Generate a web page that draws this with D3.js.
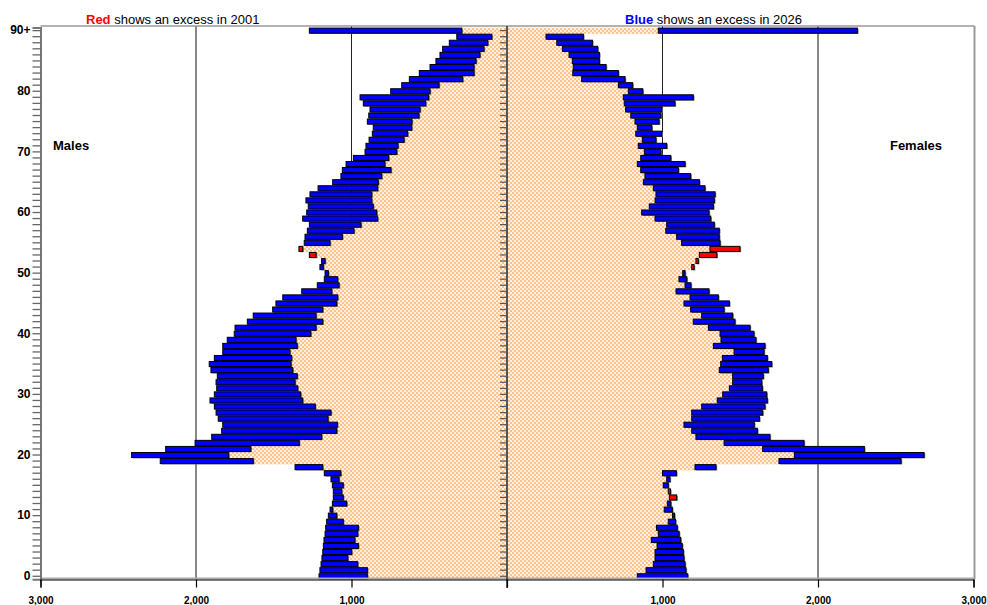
<!DOCTYPE html>
<html>
<head>
<meta charset="utf-8">
<script src="https://cdn.jsdelivr.net/npm/d3@7/dist/d3.min.js"></script>
<style>
  html, body { margin: 0; padding: 0; background: #fff; }
  svg { display: block; font-family: Arial, "Liberation Sans", sans-serif; }
</style>
</head>
<body>
<svg id="chart" width="987" height="605"></svg>
<script>
// Single-year ages 0..90 (90 = 90 and over)
const ages = d3.range(0, 91);

// Males, 2001 and 2026, by single year of age (index = age)
const male2001 = [898, 898, 960, 1024, 999, 956, 978, 960, 956, 1053,
  1095, 1121, 1031, 1053, 1063, 1053, 1080, 1069, 1185, 1632,
  1790, 1648, 1336, 1192, 1095, 1091, 1151, 1132, 1233, 1314,
  1327, 1346, 1363, 1349, 1378, 1389, 1385, 1396, 1349, 1357,
  1262, 1228, 1185, 1228, 1185, 1095, 1089, 1127, 1080, 1089,
  1149, 1181, 1170, 1271, 1338, 1138, 1059, 984, 939, 832,
  838, 860, 870, 870, 832, 828, 806, 746, 785, 761,
  709, 701, 662, 639, 613, 611, 566, 559, 523, 504,
  495, 437, 285, 212, 212, 199, 174, 148, 124, 98, 291];

const male2026 = [1209, 1203, 1196, 1190, 1185, 1181, 1177, 1170, 1166, 1160,
  1149, 1138, 1123, 1117, 1117, 1123, 1132, 1175, 1363, 2230,
  2414, 2195, 2006, 1899, 1835, 1828, 1857, 1871, 1882, 1910,
  1882, 1867, 1871, 1863, 1904, 1915, 1882, 1828, 1828, 1799,
  1754, 1749, 1670, 1632, 1507, 1486, 1442, 1320, 1220, 1175,
  1170, 1203, 1192, 1228, 1314, 1304, 1299, 1284, 1271, 1314,
  1288, 1278, 1293, 1267, 1215, 1121, 1068, 1059, 1035, 988,
  913, 907, 887, 866, 860, 898, 889, 881, 924, 945,
  748, 677, 628, 564, 495, 457, 431, 414, 371, 323, 1271];

// Females, 2001 and 2026
const female2001 = [838, 894, 941, 952, 952, 965, 928, 973, 961, 1037,
  1064, 1011, 1031, 1091, 1051, 1005, 1027, 1000, 1209, 1749,
  1848, 1644, 1396, 1215, 1188, 1138, 1188, 1188, 1252, 1352,
  1387, 1430, 1451, 1451, 1365, 1374, 1385, 1460, 1327, 1376,
  1370, 1295, 1198, 1252, 1181, 1138, 1177, 1087, 1145, 1106,
  1130, 1203, 1230, 1349, 1498, 1123, 1091, 1021, 1027, 952,
  866, 915, 952, 958, 941, 877, 887, 860, 838, 860,
  883, 844, 870, 828, 838, 823, 796, 763, 754, 748,
  780, 716, 480, 423, 426, 420, 399, 356, 320, 251, 973];

const female2026 = [1162, 1151, 1145, 1138, 1134, 1127, 1117, 1107, 1095, 1084,
  1077, 1063, 1053, 1044, 1037, 1037, 1048, 1089, 1344, 2534,
  2682, 2298, 1910, 1691, 1610, 1590, 1623, 1644, 1659, 1674,
  1670, 1642, 1638, 1648, 1680, 1702, 1674, 1653, 1659, 1601,
  1588, 1563, 1466, 1451, 1396, 1430, 1359, 1299, 1183, 1156,
  1145, 1188, 1215, 1237, 1305, 1370, 1365, 1365, 1333, 1310,
  1299, 1327, 1333, 1338, 1273, 1237, 1181, 1102, 1145, 1053,
  990, 1027, 958, 995, 931, 978, 990, 995, 1080, 1198,
  873, 808, 759, 716, 637, 594, 594, 583, 549, 491, 2253];

// Horizontal axis ticks (population, both directions from the centre)
const xTicks = [-3000, -2000, -1000, 0, 1000, 2000, 3000];
const ageLabelStep = 10;

const svg = d3.select("#chart");

// Geometry
const centre = 507;
const halfW = 466.5;
const plotTop = 26, plotBottom = 579.5;
const bandTop = 27.6, bandBottom = 579.3;

const xLeft = d3.scaleLinear().domain([0, 3000]).range([centre, centre - halfW]);
const xRight = d3.scaleLinear().domain([0, 3000]).range([centre, centre + halfW]);
const xAxisScale = d3.scaleLinear().domain([-3000, 3000]).range([centre - halfW, centre + halfW]);
const y = d3.scaleBand().domain(ages.slice().reverse()).range([bandTop, bandBottom]).padding(0);
const bw = y.bandwidth();

// Checkered fill for the common (overlapping) part of both years
const defs = svg.append("defs");
const pat = defs.append("pattern").attr("id", "chk")
  .attr("width", 4).attr("height", 4).attr("patternUnits", "userSpaceOnUse");
pat.append("rect").attr("width", 4).attr("height", 4).attr("fill", "#fff0e2");
pat.append("rect").attr("width", 2).attr("height", 2).attr("fill", "#ffc28a");
pat.append("rect").attr("x", 2).attr("y", 2).attr("width", 2).attr("height", 2).attr("fill", "#ffc28a");

// Vertical grid lines
const grid = svg.append("g");
[{ v: 1000, c: "#222", w: 1 }, { v: 2000, c: "#888", w: 2 }].forEach(g => {
  [xLeft(g.v), xRight(g.v)].forEach(x => {
    grid.append("line").attr("x1", x).attr("x2", x)
      .attr("y1", plotTop).attr("y2", plotBottom)
      .attr("stroke", g.c).attr("stroke-width", g.w);
  });
});

// Build rows for each side
function rows(a2001, a2026, scale, side) {
  return ages.map(age => {
    const v1 = a2001[age], v2 = a2026[age];
    const lo = Math.min(v1, v2), hi = Math.max(v1, v2);
    const xa = scale(lo), xb = scale(hi), x0 = scale(0);
    return {
      age, side,
      common: [Math.min(x0, xa), Math.abs(xa - x0)],
      excess: [Math.min(xa, xb), Math.abs(xb - xa)],
      colour: v1 > v2 ? "#ff0000" : "#0000ff"
    };
  });
}
const data = rows(male2001, male2026, xLeft, "m").concat(rows(female2001, female2026, xRight, "f"));

// Common part
svg.append("g").selectAll("rect").data(data).join("rect")
  .attr("x", d => d.common[0]).attr("width", d => d.common[1])
  .attr("y", d => y(d.age)).attr("height", bw + 0.2)
  .attr("fill", "url(#chk)");

// Excess bars with a soft drop shadow
const ex = data.filter(d => d.excess[1] > 0);
svg.append("g").selectAll("rect").data(ex).join("rect")
  .attr("x", d => d.excess[0] + 1.2).attr("width", d => d.excess[1])
  .attr("y", d => y(d.age) + 1.3).attr("height", bw - 1)
  .attr("fill", "#7a7a7a");
svg.append("g").selectAll("rect").data(ex).join("rect")
  .attr("x", d => d.excess[0]).attr("width", d => d.excess[1])
  .attr("y", d => y(d.age) + 0.5).attr("height", bw - 1)
  .attr("fill", d => d.colour).attr("stroke", "#000").attr("stroke-width", 1);

// Plot frame
svg.append("line").attr("x1", xLeft(3000)).attr("x2", xRight(3000) + 1)
  .attr("y1", plotTop).attr("y2", plotTop).attr("stroke", "#999").attr("stroke-width", 1.5);
svg.append("line").attr("x1", xRight(3000) + 1).attr("x2", xRight(3000) + 1)
  .attr("y1", plotTop).attr("y2", plotBottom).attr("stroke", "#999").attr("stroke-width", 2);
svg.append("line").attr("x1", xLeft(3000)).attr("x2", xRight(3000) + 1)
  .attr("y1", plotBottom - 1).attr("y2", plotBottom - 1).attr("stroke", "#aaa").attr("stroke-width", 2);

// Age axis on the left
const ageFmt = d => d === 90 ? "90+" : (d % ageLabelStep === 0 ? String(d) : "");
const yAxis = svg.append("g").attr("transform", `translate(${xLeft(3000)},0)`)
  .call(d3.axisLeft(y).tickValues(ages).tickSize(8).tickPadding(2).tickFormat(ageFmt));
yAxis.select(".domain").attr("stroke", "#777").attr("stroke-width", 2);
yAxis.selectAll(".tick line").attr("stroke", "#666").attr("stroke-width", 1.3);
yAxis.selectAll(".tick text").attr("font-size", 12).attr("font-weight", "bold")
  .attr("fill", "#000").attr("font-family", "Arial, 'Liberation Sans', sans-serif");

// Centre axis with yearly ticks
const cAxis = svg.append("g").attr("transform", `translate(${centre},0)`)
  .call(d3.axisLeft(y).tickValues(ages).tickSize(7).tickFormat(""));
cAxis.select(".domain").remove();
cAxis.selectAll(".tick line").attr("stroke", "#555").attr("stroke-width", 1.2);
svg.append("line").attr("x1", centre).attr("x2", centre)
  .attr("y1", plotTop).attr("y2", 588).attr("stroke", "#555").attr("stroke-width", 2);

// Population axis along the bottom
const xAxis = svg.append("g").attr("transform", `translate(0,${plotBottom})`)
  .call(d3.axisBottom(xAxisScale).tickValues(xTicks).tickSize(8).tickPadding(9)
    .tickFormat(d => d === 0 ? "" : d3.format(",")(Math.abs(d))));
xAxis.select(".domain").attr("stroke", "#000").attr("stroke-width", 1.2);
xAxis.selectAll(".tick line").attr("stroke", "#000").attr("stroke-width", 1.2);
xAxis.selectAll(".tick text").attr("font-size", 10).attr("font-weight", "bold")
  .attr("fill", "#000").attr("font-family", "Arial, 'Liberation Sans', sans-serif");

// Captions
const t1 = svg.append("text").attr("x", 86).attr("y", 24).attr("font-size", 13);
t1.append("tspan").attr("fill", "#ff0000").attr("font-weight", "bold").text("Red");
t1.append("tspan").attr("fill", "#000").text(" shows an excess in 2001");
const t2 = svg.append("text").attr("x", 625).attr("y", 24).attr("font-size", 13);
t2.append("tspan").attr("fill", "#0000ff").attr("font-weight", "bold").text("Blue");
t2.append("tspan").attr("fill", "#000").text(" shows an excess in 2026");

svg.append("text").attr("x", 53).attr("y", 150).attr("font-size", 13)
  .attr("font-weight", "bold").text("Males");
svg.append("text").attr("x", 942).attr("y", 150).attr("font-size", 13)
  .attr("font-weight", "bold").attr("text-anchor", "end").text("Females");
</script>
</body>
</html>
